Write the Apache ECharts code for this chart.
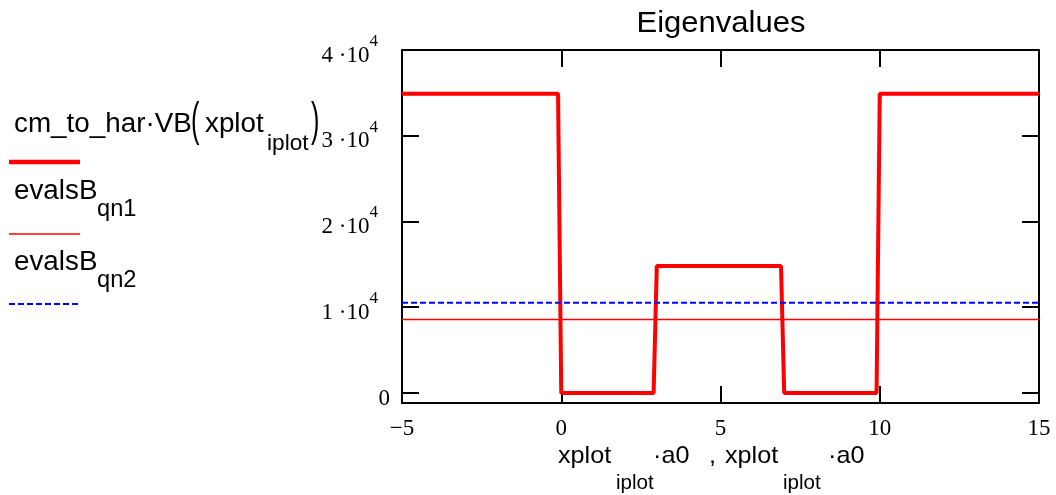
<!DOCTYPE html>
<html>
<head>
<meta charset="utf-8">
<script src="https://cdn.jsdelivr.net/npm/echarts@6/dist/echarts.min.js"></script>
<style>
  html, body { margin: 0; padding: 0; background: #fff; }
  #chart { width: 1056px; height: 495px; }
</style>
</head>
<body>
<div id="chart"></div>
<script>
// thick red curve: cm_to_har*VB(xplot)
const xplot = [-5, -0.1, 0, 2.9, 3, 6.9, 7, 9.9, 10, 15];
const vb = [34900, 34900, 0, 0, 14800, 14800, 0, 0, 34900, 34900];
// flat eigenvalue lines across the whole x span
const xSpan = [-5, 15];
const evalsQn1 = [8560, 8560];
const evalsQn2 = [10510, 10510];
// axis ticks
const yTicks = [0, 10000, 20000, 30000, 40000];
const xTickLabels = { '-5': '\u22125', '0': '0', '5': '5', '10': '10', '15': '15' };

const SANS = 'Liberation Sans';
const SERIF = 'Liberation Serif';

// text placed by its baseline (zrender draws at the middle of the line),
// stretched a bit wider like the Mathcad output
function txt(str, x, base, size, sx, align) {
  return {
    type: 'text',
    x: x,
    y: base - 0.34 * size,
    scaleX: sx || 1.03,
    style: {
      text: str,
      fontFamily: SANS,
      fontSize: size,
      fill: '#000',
      verticalAlign: 'middle',
      align: align || 'left'
    }
  };
}

const chart = echarts.init(document.getElementById('chart'));

const lineAxis = { show: true, onZero: false, lineStyle: { color: '#000', width: 2 } };
const tickStyle = { color: '#000', width: 2 };

const option = {
  backgroundColor: '#fff',
  animation: false,
  grid: { left: 402, right: 17, top: 50, bottom: 92 },
  xAxis: [
    {
      type: 'value', min: -5, max: 15, interval: 5,
      axisLine: lineAxis,
      axisTick: { inside: true, length: 17, lineStyle: tickStyle },
      splitLine: { show: false },
      axisLabel: {
        margin: 14, color: '#000', fontFamily: SERIF, fontSize: 23,
        formatter: v => xTickLabels[String(v)]
      }
    },
    {
      type: 'value', position: 'top', min: -5, max: 15, interval: 5,
      axisLine: lineAxis,
      axisTick: { inside: true, length: 17, lineStyle: tickStyle },
      splitLine: { show: false },
      axisLabel: { show: false }
    }
  ],
  yAxis: [
    {
      type: 'value', min: -1170, max: 40000,
      axisLine: lineAxis,
      axisTick: { inside: true, length: 17, customValues: yTicks, lineStyle: tickStyle },
      splitLine: { show: false },
      axisLabel: {
        customValues: yTicks,
        margin: 12,
        formatter: v => v === 0 ? '{n|0}' : '{n|' + (v / 10000) + ' \u00b710}{s|4}',
        rich: {
          n: { fontFamily: SERIF, fontSize: 23, color: '#000', lineHeight: 34, verticalAlign: 'bottom' },
          s: { fontFamily: SERIF, fontSize: 17, color: '#000', lineHeight: 17, verticalAlign: 'top', padding: [0, 12, 0, 0] }
        }
      }
    },
    {
      type: 'value', position: 'right', min: -1170, max: 40000,
      axisLine: lineAxis,
      axisTick: { inside: true, length: 17, customValues: yTicks, lineStyle: tickStyle },
      splitLine: { show: false },
      axisLabel: { show: false }
    }
  ],
  series: [
    {
      name: 'cm_to_har·VB', type: 'line', symbol: 'none',
      data: xplot.map((x, i) => [x, vb[i]]),
      lineStyle: { color: '#ff0000', width: 4 }
    },
    {
      name: 'evalsB qn1', type: 'line', symbol: 'none',
      data: xSpan.map((x, i) => [x, evalsQn1[i]]),
      lineStyle: { color: '#ff0000', width: 1.5 }
    },
    {
      name: 'evalsB qn2', type: 'line', symbol: 'none',
      data: xSpan.map((x, i) => [x, evalsQn2[i]]),
      lineStyle: { color: '#0000ff', width: 2, type: [6, 3] }
    }
  ],
  graphic: [
    // title
    txt('Eigenvalues', 721, 34, 29, 1.07, 'center'),
    // legend block (Mathcad y-axis expressions)
    txt('cm_to_har\u00b7VB', 14, 134, 27),
    txt('(', 191, 138, 46, 0.55),
    txt('xplot', 205, 134, 27),
    txt('iplot', 267, 151, 22),
    txt(')', 311, 138, 46, 0.55),
    { type: 'line', shape: { x1: 9, y1: 162, x2: 80, y2: 162 }, style: { stroke: '#ff0000', lineWidth: 4.5 } },
    txt('evalsB', 14, 201, 27),
    txt('qn1', 97, 217, 23),
    { type: 'line', shape: { x1: 9, y1: 234, x2: 80, y2: 234 }, style: { stroke: '#ff0000', lineWidth: 1.5 } },
    txt('evalsB', 14, 272, 27),
    txt('qn2', 97, 288, 23),
    { type: 'line', shape: { x1: 9, y1: 304, x2: 80, y2: 304 }, style: { stroke: '#0000ff', lineWidth: 2, lineDash: [6, 3] } },
    // x axis name
    txt('xplot', 558, 465, 24, 1.05),
    txt('iplot', 616, 490, 21, 0.98),
    txt('\u00b7a0', 653, 465, 24, 1.05),
    txt(',', 709, 465, 24, 1.05),
    txt('xplot', 725, 465, 24, 1.05),
    txt('iplot', 783, 490, 21, 0.98),
    txt('\u00b7a0', 828, 465, 24, 1.05)
  ]
};

chart.setOption(option);
</script>
</body>
</html>
